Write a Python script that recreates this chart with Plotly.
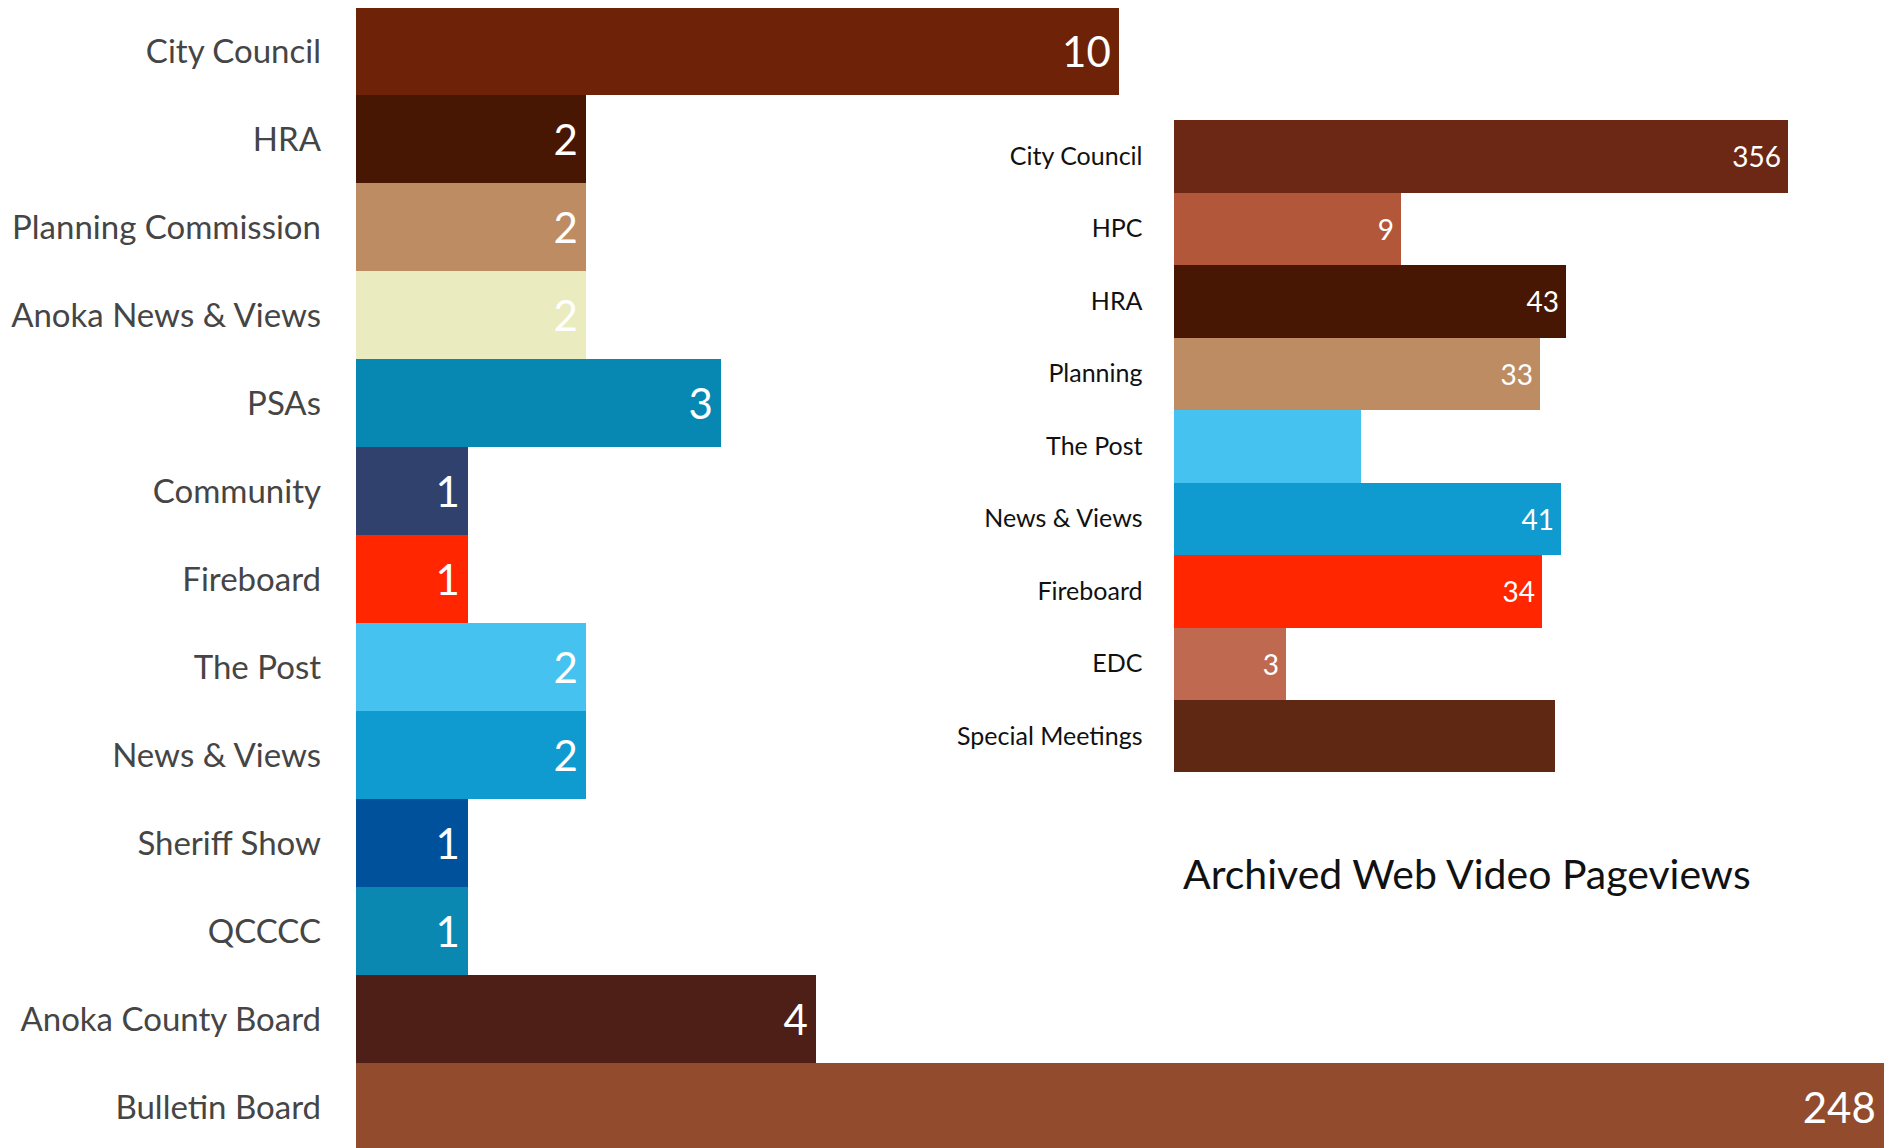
import plotly.graph_objects as go

# ---------------- Left chart data ----------------
left_categories = ["City Council", "HRA", "Planning Commission", "Anoka News & Views",
                   "PSAs", "Community", "Fireboard", "The Post", "News & Views",
                   "Sheriff Show", "QCCCC", "Anoka County Board", "Bulletin Board"]
# bar lengths as drawn in the picture (arbitrary display units)
left_lengths = [6.8, 2.05, 2.05, 2.05, 3.25, 1.0, 1.0, 2.05, 2.05, 1.0, 1.0, 4.1, 13.62]
# numbers printed on the bars
left_labels = ["10", "2", "2", "2", "3", "1", "1", "2", "2", "1", "1", "4", "248"]
left_colors = ["#6E2308", "#481704", "#BE8C63", "#EBEBC0", "#0788B2", "#30416E",
               "#FF2600", "#46C2F0", "#0F9BCF", "#00519C", "#0A88B2", "#4D1F16", "#924B2C"]

# ---------------- Right chart data ----------------
right_categories = ["City Council", "HPC", "HRA", "Planning", "The Post",
                    "News & Views", "Fireboard", "EDC", "Special Meetings"]
right_lengths = [5.47, 2.02, 3.49, 3.26, 1.67, 3.45, 3.28, 1.0, 3.40]
right_labels = ["356", "9", "43", "33", "", "41", "34", "3", ""]
right_colors = ["#6C2814", "#B3573A", "#481704", "#BE8C63", "#46C2F0",
                "#0F9BCF", "#FF2600", "#BF6950", "#5F2813"]

title_text = "Archived Web Video Pageviews"

FONT = "Lato, 'Open Sans', sans-serif"
OFF = 8                      # page body margin
W, H = 1893 - OFF, 1148 - OFF
PLOT_H = H
PAD = "\u2009"

fig = go.Figure()

fig.add_trace(go.Bar(
    x=left_lengths, y=left_categories, orientation="h",
    marker=dict(color=left_colors, line=dict(width=0)),
    text=[t + PAD if t else t for t in left_labels],
    textposition="inside", insidetextanchor="end",
    textangle=0, constraintext="none",
    textfont=dict(family=FONT, size=42, color="white"),
    xaxis="x", yaxis="y", hoverinfo="x+y", showlegend=False,
))

fig.add_trace(go.Bar(
    x=right_lengths, y=right_categories, orientation="h",
    marker=dict(color=right_colors, line=dict(width=0)),
    text=[t + PAD if t else t for t in right_labels],
    textposition="inside", insidetextanchor="end",
    textangle=0, constraintext="none",
    textfont=dict(family=FONT, size=28, color="white"),
    xaxis="x2", yaxis="y2", hoverinfo="x+y", showlegend=False,
))

left_x0 = 356 - OFF
right_x0 = 1173.5 - OFF
unit_px = 112.2
bar_px = 88.0
first_top = 7 - OFF
right_top, right_bot = 119.5 - OFF, 772 - OFF
r0 = -0.5 - first_top / bar_px

fig.update_layout(
    width=W, height=H,
    margin=dict(l=0, r=0, t=0, b=0),
    paper_bgcolor="white", plot_bgcolor="white",
    bargap=0,
    font=dict(family=FONT),
    xaxis=dict(domain=[left_x0 / W, 1], range=[0, (W - left_x0) / unit_px],
               visible=False, fixedrange=True),
    yaxis=dict(domain=[0, 1], type="category",
               range=[r0 + PLOT_H / bar_px, r0],
               showgrid=False, zeroline=False, showline=False,
               ticks="", ticklabelstandoff=34,
               tickfont=dict(family=FONT, size=33, color="#454545")),
    xaxis2=dict(domain=[right_x0 / W, 1], range=[0, (W - right_x0) / unit_px],
                visible=False, anchor="y2", fixedrange=True),
    yaxis2=dict(domain=[(H - right_bot) / PLOT_H, (H - right_top) / PLOT_H],
                anchor="x2", type="category", autorange="reversed",
                showgrid=False, zeroline=False, showline=False,
                ticks="", ticklabelstandoff=30,
                tickfont=dict(family=FONT, size=25, color="#111111")),
    annotations=[dict(
        text=title_text, x=(1467 - OFF) / W, y=(H - (873 - OFF)) / PLOT_H,
        xref="paper", yref="paper", xanchor="center", yanchor="middle",
        showarrow=False, font=dict(family=FONT, size=41, color="#111111"),
    )],
)

fig.write_html("out.html")
